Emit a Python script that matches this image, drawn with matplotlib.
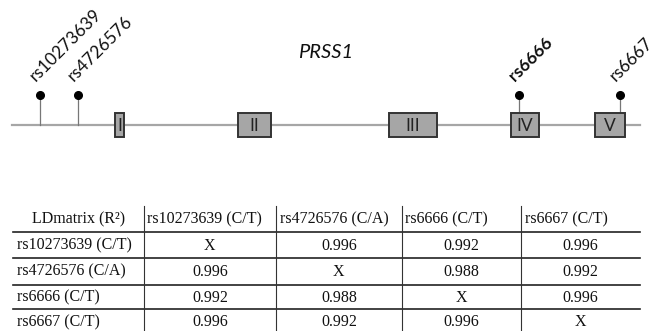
import matplotlib.pyplot as plt
from matplotlib.patches import Rectangle

# gene model (x in drawing units along the gene)
gene_name = "PRSS1"
gene_span = [12, 640]
exon_names = ["I", "II", "III", "IV", "V"]
exon_start = [115, 238, 389, 511, 595]
exon_end = [124, 271, 437, 539, 625]

snp_names = ["rs10273639", "rs4726576", "rs6666", "rs6667"]
snp_pos = [40, 78, 519, 620]
snp_bold = [False, False, True, False]

# LD matrix table
col_labels = ["LDmatrix (R²)", "rs10273639 (C/T)", "rs4726576 (C/A)",
              "rs6666 (C/T)", "rs6667 (C/T)"]
row_labels = ["rs10273639 (C/T)", "rs4726576 (C/A)", "rs6666 (C/T)", "rs6667 (C/T)"]
ld_values = [
    ["X", "0.996", "0.992", "0.996"],
    ["0.996", "X", "0.988", "0.992"],
    ["0.992", "0.988", "X", "0.996"],
    ["0.996", "0.992", "0.996", "X"],
]

W, H = 654, 331
fig = plt.figure(figsize=(W / 100, H / 100), dpi=100)
ax = fig.add_axes([0, 0, 1, 1])
ax.set_xlim(0, W)
ax.set_ylim(H, 0)
ax.axis("off")

sans = "Lato"
serif = "Liberation Serif"

# gene line
line_y = 125
box_top, box_h = 112.7, 24.6
ax.plot(gene_span, [line_y, line_y], color="#a6a6a6", lw=1.6, zorder=1)

for name, s, e in zip(exon_names, exon_start, exon_end):
    ax.add_patch(Rectangle((s, box_top), e - s, box_h, facecolor="#a6a6a6",
                           edgecolor="#333333", lw=1.4, zorder=2))
    ax.text((s + e) / 2, box_top + box_h / 2 + 1, name, ha="center", va="center",
            fontsize=12.5, family=sans, color="#222222", zorder=3)

# SNPs
dot_y = 94.5
for name, x, bold in zip(snp_names, snp_pos, snp_bold):
    inside = any(s <= x <= e for s, e in zip(exon_start, exon_end))
    end_y = box_top if inside else line_y
    ax.plot([x, x], [dot_y, end_y], color="#777777", lw=0.9, zorder=1)
    ax.plot(x, dot_y, "o", color="black", ms=5.5, zorder=4)
    ax.text(x - 4, dot_y - 12, name, rotation=45, rotation_mode="anchor",
            ha="left", va="baseline", fontsize=12.5, family=sans,
            fontweight="bold" if bold else "normal", color="#111111")

ax.text(326, 52, gene_name, ha="center", va="center", fontsize=14.5,
        family=sans, style="italic", color="#111111")

# table
col_edges = [12.7, 143.7, 276, 401.7, 521.3, 640]
row_lines = [231.7, 258.3, 285, 309]
row_centers = [219, 245.5, 271.5, 297.5, 322.5]
table_top = 206

for y in row_lines:
    ax.plot([col_edges[0], col_edges[-1]], [y, y], color="#222222", lw=1.2)
for x in col_edges[1:-1]:
    ax.plot([x, x], [table_top, H], color="#333333", lw=0.8)

fs = 11.5
# header
ax.text((col_edges[0] + col_edges[1]) / 2, row_centers[0], col_labels[0],
        ha="center", va="center", fontsize=fs, family=serif, color="#111111")
for j, lab in enumerate(col_labels[1:]):
    ax.text(col_edges[j + 1] + 3.5, row_centers[0], lab, ha="left", va="center",
            fontsize=fs, family=serif, color="#111111")

for i, rl in enumerate(row_labels):
    yc = row_centers[i + 1]
    ax.text(col_edges[0] + 4, yc, rl, ha="left", va="center", fontsize=fs,
            family=serif, color="#111111")
    for j, v in enumerate(ld_values[i]):
        xc = (col_edges[j + 1] + col_edges[j + 2]) / 2
        ax.text(xc, yc, v, ha="center", va="center", fontsize=fs,
                family=serif, color="#111111")

fig.savefig("out.png", dpi=100, facecolor="white")
